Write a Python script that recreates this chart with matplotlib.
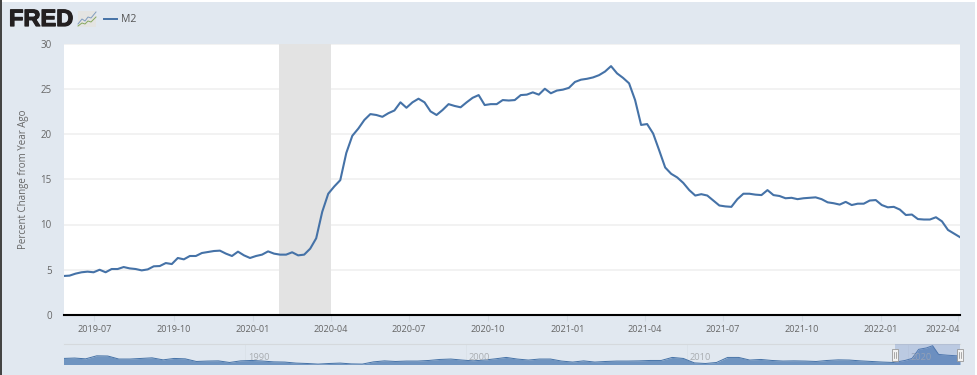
import matplotlib
matplotlib.use('Agg')
import matplotlib.pyplot as plt
import matplotlib.patheffects as pe
from matplotlib.patches import Rectangle
import numpy as np
import pandas as pd

plt.rcParams['font.family'] = ['Open Sans', 'DejaVu Sans']

# weekly M2, percent change from year ago
m2_values = [4.31, 4.35, 4.57, 4.72, 4.79, 4.72, 5.0, 4.72, 5.08, 5.08, 5.3, 5.15,
             5.08, 4.93, 5.04, 5.38, 5.41, 5.74, 5.63, 6.3, 6.15, 6.52, 6.52, 6.85,
             6.96, 7.07, 7.11, 6.78, 6.52, 7.0, 6.59, 6.3, 6.52, 6.67, 7.03, 6.78,
             6.67, 6.67, 6.93, 6.59, 6.67, 7.33, 8.48, 11.4, 13.4, 14.2, 14.9,
             17.9, 19.8, 20.6, 21.55, 22.2, 22.1, 21.9, 22.3, 22.6, 23.5, 22.9, 23.5,
             23.9, 23.5, 22.5, 22.1, 22.65, 23.3, 23.1, 22.95, 23.5, 24.0, 24.3, 23.2,
             23.3, 23.3, 23.75, 23.7, 23.75, 24.3, 24.35, 24.6, 24.35, 25.0, 24.5, 24.8,
             24.9, 25.1, 25.75, 26.0, 26.1, 26.25, 26.5, 26.9, 27.5, 26.7, 26.2, 25.6,
             23.75, 21.0, 21.1,
             20.05, 18.2, 16.3, 15.6, 15.2, 14.6, 13.8, 13.2, 13.35, 13.2, 12.65, 12.1,
             12.0, 11.95, 12.8, 13.4, 13.4, 13.3, 13.25, 13.8, 13.25, 13.15, 12.9, 12.95,
             12.8, 12.9, 12.95, 13.0, 12.8, 12.45, 12.35, 12.2, 12.5, 12.15, 12.3, 12.3,
             12.65, 12.7, 12.15, 11.9, 11.95, 11.65, 11.05, 11.1, 10.6, 10.55, 10.55,
             10.8, 10.35, 9.4, 9.0, 8.6]
first_week = '2019-05-26'
recession = ['2020-02-01', '2020-04-01']
date_ticks = ['2019-07-01', '2019-10-01', '2020-01-01', '2020-04-01', '2020-07-01', '2020-10-01',
              '2021-01-01', '2021-04-01', '2021-07-01', '2021-10-01', '2022-01-01', '2022-04-01']
tick_labels = ['2019-07', '2019-10', '2020-01', '2020-04', '2020-07', '2020-10',
               '2021-01', '2021-04', '2021-07', '2021-10', '2022-01', '2022-04']
y_ticks = [0, 5, 10, 15, 20, 25, 30]

# navigator strip: long history, relative heights
nav_start, nav_end = 1981.8, 2022.37
nav_values = [3, 3.2, 2.8, 4.3, 4.2, 2.7, 2.7, 3, 3.3, 2.3, 3, 2.8, 1.5, 1.7, 1.8, 1, 1.8, 2, 1.7, 1.3,
              1.2, .7, .5, .2, .5, .7, .3, .2, 1.3, 1.8, 1.5, 1.7, 1.7, 2, 2.5, 2.7, 2.2, 1.8, 2.2,
              2.8, 3.5, 2.7, 2.2, 2.7, 2.7, 1.7, 1.2, 1.8, 1.2, 1.5, 1.7, 1.7, 1.8, 2, 2, 3.5, 3, .8,
              .5, 1, 3.5, 3.5, 2.2, 2.5, 2, 1.7, 1.8, 1.7, 1.5, 2, 2.3, 2.2, 1.8, 1.5, 1.2, 1]
# the last two years change fast, so they get their own dates
nav_tail_years = [2019.88, 2020.2, 2020.5, 2020.85, 2021.13, 2021.4, 2021.8, 2022.37]
nav_tail_values = [2.0, 3.0, 7.5, 8.2, 9.3, 5.0, 4.6, 4.2]
nav_years = [1990, 2000, 2010, 2020]
nav_window = [2019.45, 2022.37]

W, H = 977, 375
BG = '#e1e8f0'
LINE = '#4572a7'
TEXT = '#666666'

fig = plt.figure(figsize=(W / 100, H / 100), dpi=100, facecolor='white')


def axes_px(x0, y0, x1, y1):
    # axes from pixel box, y measured from the top
    return fig.add_axes([x0 / W, 1 - y1 / H, (x1 - x0) / W, (y1 - y0) / H])


# page background, logo and legend in pixel coords
page = axes_px(0, 0, W, H)
page.set_xlim(0, W)
page.set_ylim(H, 0)
page.axis('off')
page.add_patch(Rectangle((1.5, 2), 973.5, 373, fc=BG, ec='none'))
page.add_patch(Rectangle((0, 0), 1.5, H, fc='#444444', ec='none'))
logo = page.text(9, 19.5, 'FRED', family='Liberation Sans', weight='bold', fontsize=17,
                 color='#231f20', va='center', ha='left')
logo.set_path_effects([pe.withStroke(linewidth=0.9, foreground='#231f20')])
page.add_patch(Rectangle((78, 11), 18, 16, fc='#e4e4e2', ec='none'))
page.plot([78, 82, 85, 88, 91, 96], [24, 19, 21, 17, 18, 12], color='#7f9cc0', lw=0.7)
page.plot([78, 82, 85, 88, 91, 96], [26, 23, 24, 21, 22, 17], color='#86a85f', lw=0.7)
page.plot([104, 117], [18.5, 18.5], color=LINE, lw=1.4)
page.text(121.5, 19, 'M2', fontsize=7.6, color='#555555', va='center')
page.text(24, 179, 'Percent Change from Year Ago', rotation=90, fontsize=7, color=TEXT,
          va='center', ha='center')

# main chart
dates = pd.date_range(first_week, periods=len(m2_values), freq='7D')
ax = axes_px(63.5, 43.5, 960, 315)
ax.set_facecolor('white')
ax.axvspan(pd.Timestamp(recession[0]), pd.Timestamp(recession[1]), color='#e3e3e3', lw=0, zorder=1)
ax.yaxis.grid(True, color='#f0f0f0', lw=1.2, zorder=0)
ax.set_axisbelow(True)
ax.plot(dates, m2_values, color=LINE, lw=1.5, zorder=3, solid_joinstyle='round')
ax.set_xlim(dates[0], dates[-1])
ax.set_ylim(0, 30)
ax.set_yticks(y_ticks)
ax.set_xticks([pd.Timestamp(d) for d in date_ticks])
ax.set_xticklabels(tick_labels[:-1] + [''])
ax.text(1, -14 / 271.5, tick_labels[-1], transform=ax.transAxes, ha='right', va='center',
        fontsize=6.6, color=TEXT)
ax.tick_params(axis='x', length=4, width=0.8, color='#d3dbe3', labelcolor=TEXT, labelsize=6.6, pad=3.5)
ax.tick_params(axis='y', length=0, labelcolor=TEXT, labelsize=7, pad=8.5)
for name in ['top', 'left', 'right']:
    ax.spines[name].set_visible(False)
ax.spines['bottom'].set_color('black')
ax.spines['bottom'].set_linewidth(1.5)

# navigator
nav = axes_px(63.5, 344.3, 960, 364.5)
nav.patch.set_alpha(0)
nav_x = np.concatenate([np.linspace(nav_start, nav_end, 82)[:len(nav_values)], nav_tail_years])
nav_y = nav_values + nav_tail_values
nav.fill_between(nav_x, nav_y, 0, color='#6f94c0', lw=0, zorder=2)
nav.plot(nav_x, nav_y, color=LINE, lw=0.7, zorder=3)
nav.set_xlim(nav_start, nav_end)
nav.set_ylim(0, 10)
nav.set_xticks([])
nav.set_yticks([])
for name in ['left', 'right', 'bottom']:
    nav.spines[name].set_visible(False)
nav.spines['top'].set_color('#d5d9dd')
nav.spines['top'].set_linewidth(0.8)
for year in nav_years:
    nav.axvline(year, color='#dbe1e8', lw=0.6, zorder=1)
    nav.annotate(str(year), (year, 0), xytext=(14, 6.5), textcoords='offset pixels', ha='center',
                 va='center', fontsize=6.7, color='#a9adb1', zorder=4)
nav.axvspan(nav_window[0], nav_window[1], color='#6685c2', alpha=0.3, lw=0, zorder=4)

# drag handles on top of everything
over = axes_px(0, 0, W, H)
over.set_xlim(0, W)
over.set_ylim(H, 0)
over.axis('off')
for edge in nav_window:
    hx = 63.5 + (edge - nav_start) / (nav_end - nav_start) * 896.5
    over.add_patch(Rectangle((hx - 3, 348.5), 6, 12.5, fc='#f2f2f2', ec='#999999', lw=0.6))
    over.plot([hx - 1, hx - 1], [352, 357.5], color='#888888', lw=0.5)
    over.plot([hx + 1, hx + 1], [352, 357.5], color='#888888', lw=0.5)

fig.savefig('out.png', dpi=100, facecolor=fig.get_facecolor())
